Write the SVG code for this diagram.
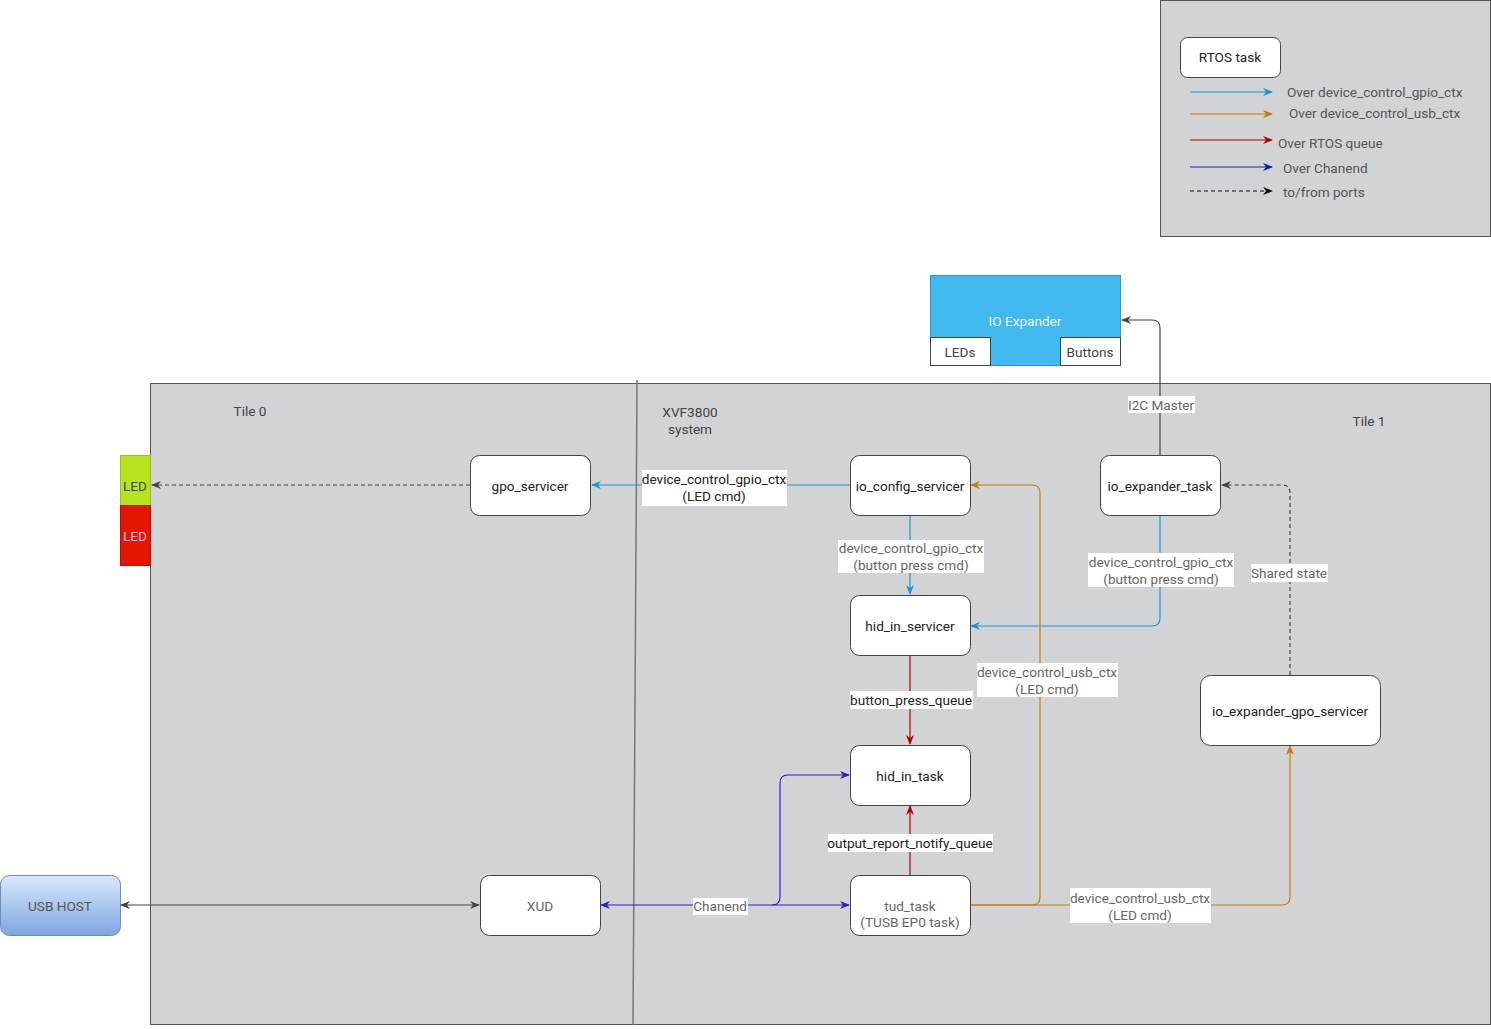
<svg xmlns="http://www.w3.org/2000/svg" width="1491" height="1029" viewBox="0 0 1491 1029">
<defs>
<style>
text{font-family:Roboto,"Liberation Sans",sans-serif;font-size:13.6px;}
.node{fill:#fff;stroke:#444;stroke-width:1}
.lbl{fill:#fff}
.c{fill:none;stroke-width:1.2}
.grey{stroke:#444}
.blue{stroke:#1a98d6}
.orange{stroke:#c97a06}
.red{stroke:#b80000}
.chan{stroke:#2a1ec8}
.dash{stroke-dasharray:4 3}
.t{fill:#222;text-anchor:middle}
.g{fill:#666;text-anchor:middle}
.lg{fill:#555}
</style>
<linearGradient id="usbg" x1="0" y1="0" x2="0" y2="1">
<stop offset="0" stop-color="#dae8fc"/>
<stop offset="1" stop-color="#7ea6e0"/>
</linearGradient>
<marker id="aGrey" viewBox="0 0 10 8" refX="9" refY="4" markerWidth="10" markerHeight="8" markerUnits="userSpaceOnUse" orient="auto-start-reverse"><path d="M0,0 L10,4 L0,8 L3,4 z" fill="#444"/></marker>
<marker id="aBlue" viewBox="0 0 10 8" refX="9" refY="4" markerWidth="10" markerHeight="8" markerUnits="userSpaceOnUse" orient="auto-start-reverse"><path d="M0,0 L10,4 L0,8 L3,4 z" fill="#1a98d6"/></marker>
<marker id="aOrange" viewBox="0 0 10 8" refX="9" refY="4" markerWidth="10" markerHeight="8" markerUnits="userSpaceOnUse" orient="auto-start-reverse"><path d="M0,0 L10,4 L0,8 L3,4 z" fill="#c97a06"/></marker>
<marker id="aRed" viewBox="0 0 10 8" refX="9" refY="4" markerWidth="10" markerHeight="8" markerUnits="userSpaceOnUse" orient="auto-start-reverse"><path d="M0,0 L10,4 L0,8 L3,4 z" fill="#b80000"/></marker>
<marker id="aChan" viewBox="0 0 10 8" refX="9" refY="4" markerWidth="10" markerHeight="8" markerUnits="userSpaceOnUse" orient="auto-start-reverse"><path d="M0,0 L10,4 L0,8 L3,4 z" fill="#2a1ec8"/></marker>
<marker id="aNavy" viewBox="0 0 10 8" refX="9" refY="4" markerWidth="10" markerHeight="8" markerUnits="userSpaceOnUse" orient="auto-start-reverse"><path d="M0,0 L10,4 L0,8 L3,4 z" fill="#0a22b0"/></marker>
<marker id="aBlack" viewBox="0 0 10 8" refX="9" refY="4" markerWidth="10" markerHeight="8" markerUnits="userSpaceOnUse" orient="auto-start-reverse"><path d="M0,0 L10,4 L0,8 L3,4 z" fill="#111"/></marker>
</defs>

<!-- Legend -->
<g id="legend">
<rect x="1160.5" y="0.5" width="330" height="236" fill="#d2d3d5" stroke="#555"/>
<rect x="1180.5" y="37.5" width="100" height="40" rx="7" class="node"/>
<text x="1230" y="62" class="t">RTOS task</text>
<line x1="1190" y1="92" x2="1272" y2="92" class="c blue" marker-end="url(#aBlue)"/>
<text x="1287" y="97" class="lg">Over device_control_gpio_ctx</text>
<line x1="1190" y1="114" x2="1272" y2="114" class="c orange" marker-end="url(#aOrange)"/>
<text x="1289" y="118" class="lg">Over device_control_usb_ctx</text>
<line x1="1190" y1="140" x2="1272" y2="140" class="c red" marker-end="url(#aRed)"/>
<text x="1278" y="148" class="lg">Over RTOS queue</text>
<line x1="1190" y1="167" x2="1272" y2="167" class="c" stroke="#0a22b0" marker-end="url(#aNavy)"/>
<text x="1283" y="173" class="lg">Over Chanend</text>
<line x1="1190" y1="191" x2="1272" y2="191" class="c dash" stroke="#111" marker-end="url(#aBlack)"/>
<text x="1283" y="197" class="lg">to/from ports</text>
</g>

<!-- Main system area -->
<g id="system">
<rect x="150.5" y="383.5" width="1340" height="641" fill="#d2d3d5" stroke="#555"/>
<line x1="637" y1="380" x2="633" y2="1025" stroke="#777" stroke-width="1.5"/>
<text x="250" y="416" class="g" style="fill:#444">Tile 0</text>
<text x="690" y="417" class="g" style="fill:#444">XVF3800</text>
<text x="690" y="434" class="g" style="fill:#444">system</text>
<text x="1369" y="426" class="g" style="fill:#444">Tile 1</text>
</g>

<!-- IO Expander -->
<g id="io_expander">
<rect x="930.5" y="275.5" width="190" height="90" fill="#42b9ee" stroke="#2a95d8"/>
<text x="1025" y="326" class="t" style="fill:#eaf6fd">IO Expander</text>
<rect x="930.5" y="337.5" width="60" height="28" class="node"/>
<text x="960" y="357" class="g" style="fill:#444">LEDs</text>
<rect x="1060.5" y="337.5" width="60" height="28" class="node"/>
<text x="1090" y="357" class="g" style="fill:#444">Buttons</text>
</g>

<!-- LEDs -->
<g id="led_green">
<rect x="120.5" y="455.5" width="30" height="50" fill="#b7e41e" stroke="#9cc21a"/>
<text x="135" y="491" class="g" style="fill:#444">LED</text>
</g>
<g id="led_red">
<rect x="120.5" y="505.5" width="30" height="60" fill="#e41600" stroke="#b51000"/>
<text x="135" y="541" class="g" style="fill:#fbe">LED</text>
</g>

<!-- USB HOST -->
<g id="usb_host">
<rect x="0.5" y="875.5" width="120" height="60" rx="9" fill="url(#usbg)" stroke="#6c8ebf"/>
<text x="60" y="911" class="g" style="fill:#555">USB HOST</text>
</g>

<!-- Connectors -->
<g id="connectors">
<path d="M121,905 H479" class="c grey" marker-start="url(#aGrey)" marker-end="url(#aGrey)"/>
<path d="M601,905 H849" class="c chan" marker-start="url(#aChan)" marker-end="url(#aChan)"/>
<path d="M772,905 Q780,905 780,897 V783 Q780,775 788,775 H849" class="c chan" marker-end="url(#aChan)"/>
<path d="M470,485 H152" class="c grey dash" marker-end="url(#aGrey)"/>
<path d="M850,485 H592" class="c blue" marker-end="url(#aBlue)"/>
<path d="M910,515 V594" class="c blue" marker-end="url(#aBlue)"/>
<path d="M1160,515 V618 Q1160,626 1152,626 H971" class="c blue" marker-end="url(#aBlue)"/>
<path d="M1160,455 V328 Q1160,320 1152,320 H1122" class="c grey" marker-end="url(#aGrey)"/>
<path d="M1290,675 V493 Q1290,485 1282,485 H1222" class="c grey dash" marker-end="url(#aGrey)"/>
<path d="M910,655 V744" class="c red" marker-end="url(#aRed)"/>
<path d="M910,875 V806" class="c red" marker-end="url(#aRed)"/>
<path d="M970,905 H1032 Q1040,905 1040,897 V493 Q1040,485 1032,485 H971" class="c orange" marker-end="url(#aOrange)"/>
<path d="M970,905 H1282 Q1290,905 1290,897 V746" class="c orange" marker-end="url(#aOrange)"/>

<rect x="642" y="470" width="145" height="36" class="lbl"/>
<text x="714" y="484" class="t">device_control_gpio_ctx</text>
<text x="714" y="501" class="t">(LED cmd)</text>

<rect x="838" y="540" width="146" height="33" class="lbl"/>
<text x="911" y="553" class="g">device_control_gpio_ctx</text>
<text x="911" y="570" class="g">(button press cmd)</text>

<rect x="1088" y="553" width="146" height="34" class="lbl"/>
<text x="1161" y="567" class="g">device_control_gpio_ctx</text>
<text x="1161" y="584" class="g">(button press cmd)</text>

<rect x="1128" y="396" width="67" height="17" class="lbl"/>
<text x="1161" y="410" class="g">I2C Master</text>

<rect x="1251" y="564" width="77" height="18" class="lbl"/>
<text x="1289" y="578" class="g">Shared state</text>

<rect x="850" y="691" width="123" height="18" class="lbl"/>
<text x="911" y="705" class="t">button_press_queue</text>

<rect x="977" y="663" width="141" height="34" class="lbl"/>
<text x="1047" y="677" class="g">device_control_usb_ctx</text>
<text x="1047" y="694" class="g">(LED cmd)</text>

<rect x="828" y="834" width="165" height="18" class="lbl"/>
<text x="910" y="848" class="t">output_report_notify_queue</text>

<rect x="693" y="898" width="55" height="17" class="lbl"/>
<text x="720" y="911" class="g">Chanend</text>

<rect x="1070" y="888" width="141" height="35" class="lbl"/>
<text x="1140" y="903" class="g">device_control_usb_ctx</text>
<text x="1140" y="920" class="g">(LED cmd)</text>
</g>

<!-- Task nodes -->
<g id="gpo_servicer"><rect x="470.5" y="455.5" width="120" height="60" rx="9" class="node"/><text x="530" y="491" class="t">gpo_servicer</text></g>
<g id="io_config_servicer"><rect x="850.5" y="455.5" width="120" height="60" rx="9" class="node"/><text x="910" y="491" class="t">io_config_servicer</text></g>
<g id="io_expander_task"><rect x="1100.5" y="455.5" width="120" height="60" rx="9" class="node"/><text x="1160" y="491" class="t">io_expander_task</text></g>
<g id="hid_in_servicer"><rect x="850.5" y="595.5" width="120" height="60" rx="9" class="node"/><text x="910" y="631" class="t">hid_in_servicer</text></g>
<g id="hid_in_task"><rect x="850.5" y="745.5" width="120" height="60" rx="9" class="node"/><text x="910" y="781" class="t">hid_in_task</text></g>
<g id="io_expander_gpo_servicer"><rect x="1200.5" y="675.5" width="180" height="70" rx="10" class="node"/><text x="1290" y="716" class="t">io_expander_gpo_servicer</text></g>
<g id="xud"><rect x="480.5" y="875.5" width="120" height="60" rx="9" class="node"/><text x="540" y="911" class="g">XUD</text></g>
<g id="tud_task"><rect x="850.5" y="875.5" width="120" height="60" rx="9" class="node"/><text x="910" y="911" class="g">tud_task</text><text x="910" y="927" class="g">(TUSB EP0 task)</text></g>
</svg>
